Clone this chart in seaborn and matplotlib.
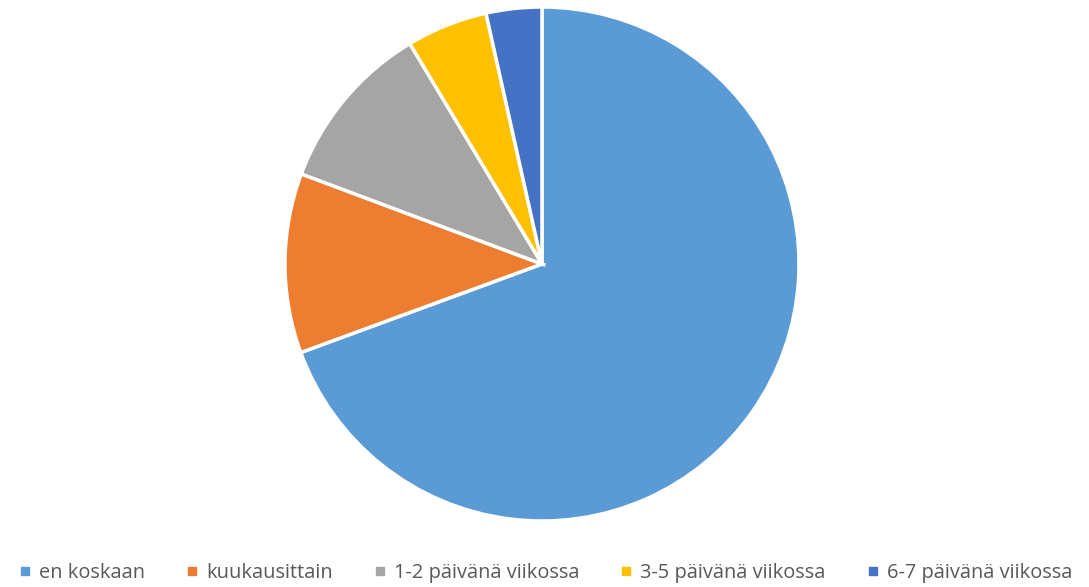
import matplotlib
matplotlib.use("Agg")
import matplotlib.pyplot as plt
import seaborn as sns
from matplotlib.lines import Line2D

categories = ["en koskaan", "kuukausittain", "1-2 päivänä viikossa", "3-5 päivänä viikossa", "6-7 päivänä viikossa"]
values = [69.4, 11.3, 10.7, 5.1, 3.5]
colors = ["#5B9BD5", "#ED7D31", "#A5A5A5", "#FFC000", "#4472C4"]

sns.set_theme(style="white")
plt.rcParams['font.family'] = ['Open Sans', 'DejaVu Sans']
palette = sns.color_palette(colors)

W, H = 1089, 587
fig = plt.figure(figsize=(W / 100, H / 100), dpi=100)
cx, cy, r = 542, 264, 257
ax = fig.add_axes([(cx - r) / W, (H - cy - r) / H, 2 * r / W, 2 * r / H])
ax.pie(values, colors=palette, startangle=90, counterclock=False,
       wedgeprops=dict(edgecolor="white", linewidth=2.5))
ax.set_xlim(-1, 1)
ax.set_ylim(-1, 1)
ax.set_aspect("equal")
ax.axis("off")

handles = [Line2D([0], [0], marker="s", linestyle="none", markersize=6,
                  markerfacecolor=c, markeredgecolor=c) for c in palette]
fig.legend(handles, categories, loc="center", bbox_to_anchor=(0.5, (H - 573) / H),
           ncol=5, frameon=False, fontsize=14.4, labelcolor="#595959",
           handletextpad=0.3, columnspacing=1.95, handlelength=0.8)

fig.savefig("out.png", dpi=100, facecolor="white")
